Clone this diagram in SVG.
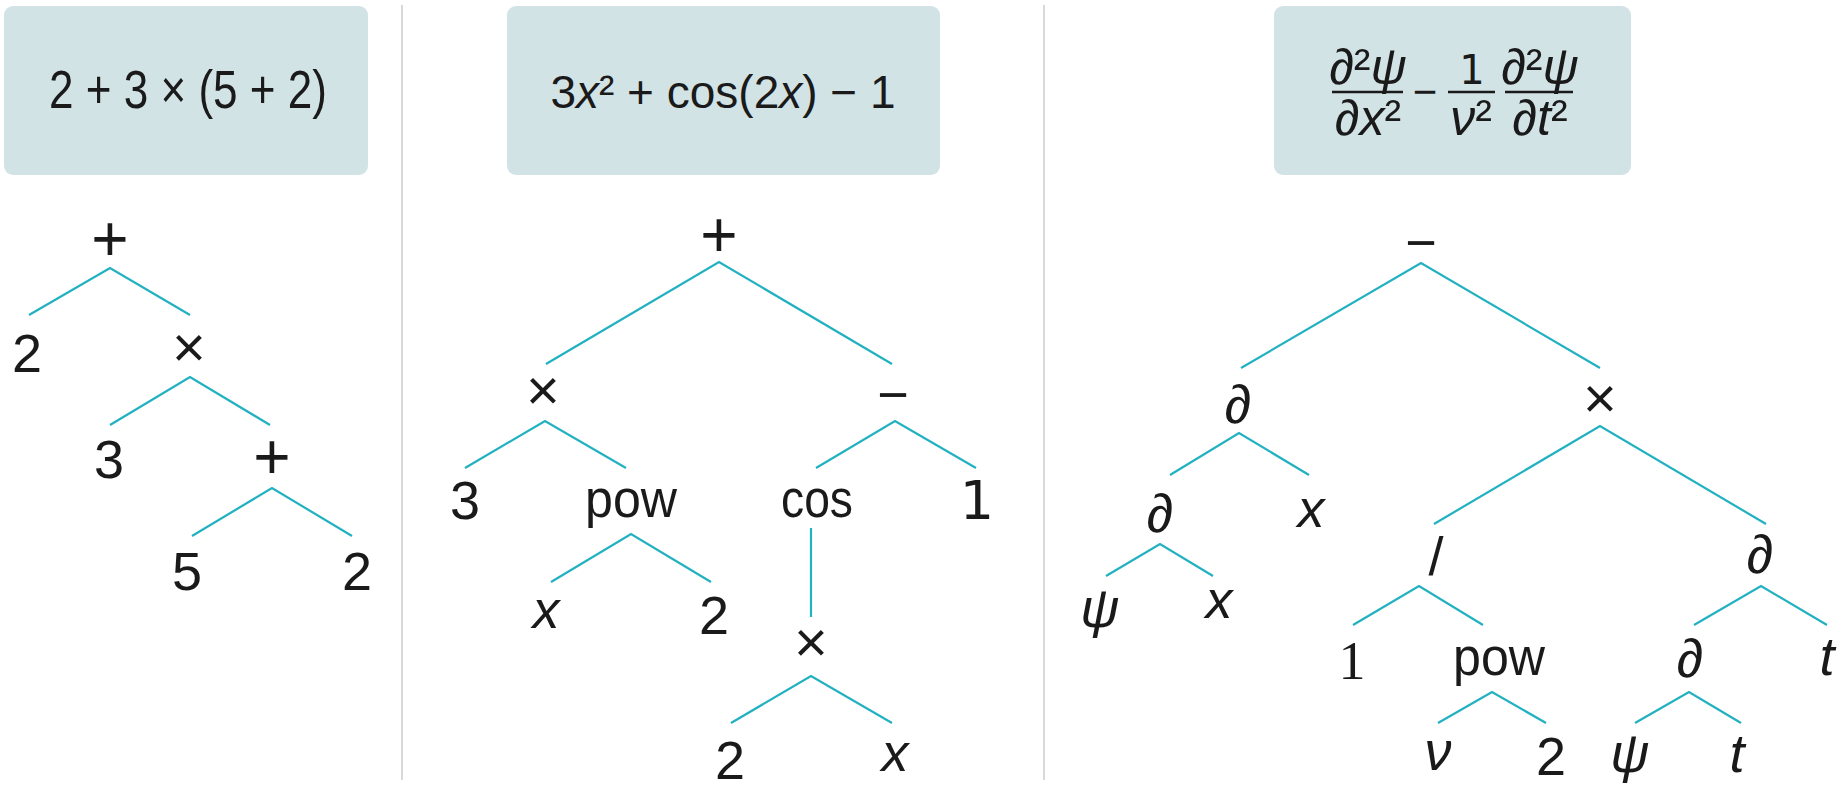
<svg xmlns="http://www.w3.org/2000/svg" width="1841" height="789" viewBox="0 0 1841 789">
<style>
.box{fill:#d2e3e6}
.div{stroke:#d9d9d9;stroke-width:2}
.edge{stroke:#22b1c1;stroke-width:2.2;fill:none;stroke-linecap:butt}
.t{font-family:"Liberation Sans",Arial,sans-serif;fill:#1a1a1a;text-anchor:middle}
.lbl{font-size:54px}
.plus{font-size:64px}
.times{font-size:58px}
.f{font-size:54px}
.f2{font-size:46px}
.f3{font-size:50px}
.it{font-style:italic}
.one{font-family:"DejaVu Sans",sans-serif}
.serif{font-family:"Liberation Serif",serif}
.bar{stroke:#1a1a1a;stroke-width:2.4}
</style>
<rect width="1841" height="789" fill="#ffffff"/>
<g id="dividers">
<line class="div" x1="402" y1="5" x2="402" y2="780"/>
<line class="div" x1="1044" y1="5" x2="1044" y2="780"/>
</g>
<g id="formula1">
<rect class="box" x="4" y="6" width="364" height="169" rx="9"/>
<text class="t f" x="188" y="108" textLength="278" lengthAdjust="spacingAndGlyphs">2 + 3 × (5 + 2)</text>
</g>
<g id="formula2">
<rect class="box" x="507" y="6" width="433" height="169" rx="9"/>
<text class="t f2" x="723" y="108">3<tspan class="it">x</tspan>² + cos(2<tspan class="it">x</tspan>) − 1</text>
</g>
<g id="formula3">
<rect class="box" x="1274" y="6" width="357" height="169" rx="9"/>
<text class="t f3" x="1368" y="84">∂²<tspan class="it">ψ</tspan></text>
<line class="bar" x1="1332" y1="92" x2="1403" y2="92"/>
<text class="t f3" x="1368" y="135">∂<tspan class="it">x</tspan>²</text>
<text class="t" font-size="42" x="1425" y="106">−</text>
<text class="t one" font-size="40" x="1472" y="84">1</text>
<line class="bar" x1="1448" y1="92" x2="1495" y2="92"/>
<text class="t f3" x="1471" y="135"><tspan class="it">ν</tspan>²</text>
<text class="t f3" x="1540" y="84">∂²<tspan class="it">ψ</tspan></text>
<line class="bar" x1="1505" y1="92" x2="1573" y2="92"/>
<text class="t f3" x="1540" y="135">∂<tspan class="it">t</tspan>²</text>
</g>
<g id="connectors">
<path class="edge" d="M29,315 L110,268 L190,315"/>
<path class="edge" d="M110,425 L190,377 L270,425"/>
<path class="edge" d="M192,536 L272,488 L352,536"/>
<path class="edge" d="M546,364 L719,262 L892,364"/>
<path class="edge" d="M465,468 L545,421 L626,468"/>
<path class="edge" d="M816,468 L895,421 L976,468"/>
<path class="edge" d="M551,582 L631,534 L711,582"/>
<path class="edge" d="M811,528 L811,617"/>
<path class="edge" d="M731,723 L811,676 L892,723"/>
<path class="edge" d="M1241,368 L1421,263 L1600,368"/>
<path class="edge" d="M1170,475 L1239,433 L1309,475"/>
<path class="edge" d="M1434,524 L1600,426 L1766,524"/>
<path class="edge" d="M1106,576 L1160,544 L1213,576"/>
<path class="edge" d="M1353,625 L1419,586 L1483,625"/>
<path class="edge" d="M1694,625 L1761,586 L1827,625"/>
<path class="edge" d="M1438,723 L1492,692 L1546,723"/>
<path class="edge" d="M1635,723 L1689,692 L1741,723"/>
</g>
<g id="t1-plus"><text class="t plus" x="110" y="261">+</text></g>
<g id="t1-2"><text class="t lbl" x="27" y="372">2</text></g>
<g id="t1-times"><text class="t times" x="189" y="367">×</text></g>
<g id="t1-3"><text class="t lbl" x="109" y="478">3</text></g>
<g id="t1-plus2"><text class="t plus" x="272" y="479">+</text></g>
<g id="t1-5"><text class="t lbl" x="187" y="590">5</text></g>
<g id="t1-2b"><text class="t lbl" x="357" y="590">2</text></g>
<g id="t2-plus"><text class="t plus" x="719" y="257">+</text></g>
<g id="t2-times"><text class="t times" x="543" y="410">×</text></g>
<g id="t2-minus"><text class="t lbl" x="893" y="413">−</text></g>
<g id="t2-3"><text class="t lbl" x="465" y="519">3</text></g>
<g id="t2-pow"><text class="t lbl" x="631" y="517" textLength="92" lengthAdjust="spacingAndGlyphs">pow</text></g>
<g id="t2-cos"><text class="t lbl" x="817" y="517" textLength="72" lengthAdjust="spacingAndGlyphs">cos</text></g>
<g id="t2-1"><text class="t lbl one" x="977" y="519">1</text></g>
<g id="t2-x"><text class="t lbl it" x="546" y="628">x</text></g>
<g id="t2-2"><text class="t lbl" x="714" y="634">2</text></g>
<g id="t2-times2"><text class="t times" x="811" y="662">×</text></g>
<g id="t2-2b"><text class="t lbl" x="730" y="779">2</text></g>
<g id="t2-xb"><text class="t lbl it" x="895" y="771">x</text></g>
<g id="t3-minus"><text class="t lbl" x="1421" y="261">−</text></g>
<g id="t3-d1"><text class="t lbl" x="1238" y="423">∂</text></g>
<g id="t3-times"><text class="t times" x="1600" y="418">×</text></g>
<g id="t3-d2"><text class="t lbl" x="1160" y="532">∂</text></g>
<g id="t3-x1"><text class="t lbl it" x="1311" y="527">x</text></g>
<g id="t3-div"><text class="t lbl" x="1436" y="575">/</text></g>
<g id="t3-d3"><text class="t lbl" x="1760" y="573">∂</text></g>
<g id="t3-psi1"><text class="t lbl it" x="1100" y="627">ψ</text></g>
<g id="t3-x2"><text class="t lbl it" x="1219" y="618">x</text></g>
<g id="t3-1"><text class="t lbl serif" x="1352" y="679">1</text></g>
<g id="t3-pow"><text class="t lbl" x="1499" y="675" textLength="92" lengthAdjust="spacingAndGlyphs">pow</text></g>
<g id="t3-d4"><text class="t lbl" x="1690" y="677">∂</text></g>
<g id="t3-t1"><text class="t lbl it" x="1827" y="675">t</text></g>
<g id="t3-nu"><text class="t lbl it" x="1438" y="770">ν</text></g>
<g id="t3-2"><text class="t lbl" x="1551" y="775">2</text></g>
<g id="t3-psi2"><text class="t lbl it" x="1630" y="772">ψ</text></g>
<g id="t3-t2"><text class="t lbl it" x="1737" y="772">t</text></g>
</svg>
